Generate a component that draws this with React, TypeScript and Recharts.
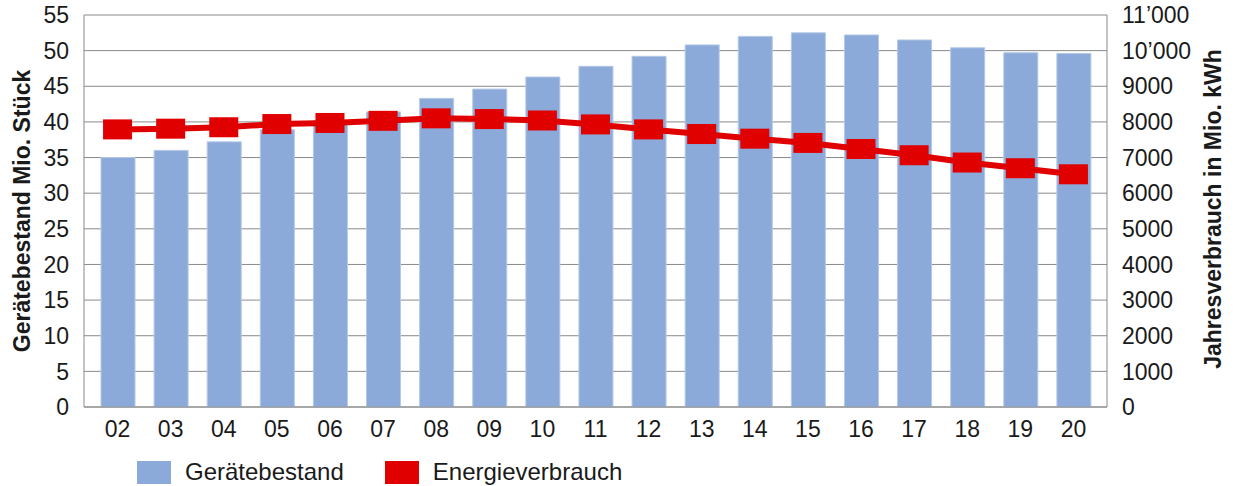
import {
  ComposedChart,
  Bar,
  Line,
  CartesianGrid,
  XAxis,
  YAxis,
  Legend,
} from "recharts";

const years = ["02", "03", "04", "05", "06", "07", "08", "09", "10", "11", "12", "13", "14", "15", "16", "17", "18", "19", "20"];
const geraetebestand = [35.0, 36.0, 37.2, 38.9, 40.2, 41.4, 43.3, 44.6, 46.3, 47.8, 49.2, 50.8, 52.0, 52.5, 52.2, 51.5, 50.4, 49.7, 49.6];
const energieverbrauch = [7790, 7810, 7850, 7940, 7970, 8030, 8100, 8080, 8040, 7930, 7790, 7660, 7530, 7410, 7240, 7065, 6860, 6700, 6530];
const leftTicks = [0, 5, 10, 15, 20, 25, 30, 35, 40, 45, 50, 55];
const rightTicks = [0, 1000, 2000, 3000, 4000, 5000, 6000, 7000, 8000, 9000, 10000, 11000];

const data = years.map((year, i) => ({
  year,
  bestand: geraetebestand[i],
  verbrauch: energieverbrauch[i],
}));

const BLUE = "#8BAAD9";
const RED = "#E00000";
const FONT = "'Liberation Sans', Arial, sans-serif";

const formatRight = (v: number) =>
  v >= 10000 ? `${Math.floor(v / 1000)}\u2019${String(v % 1000).padStart(3, "0")}` : String(v);

function SquareDot(props: any) {
  const { cx, cy, index } = props;
  if (cx == null || cy == null) return null;
  return <rect key={`dot-${index}`} x={cx - 14.5} y={cy - 10} width={29} height={20} fill={RED} />;
}

function LegendContent() {
  const items = [
    { label: "Gerätebestand", color: BLUE },
    { label: "Energieverbrauch", color: RED },
  ];
  return (
    <div style={{ display: "flex", alignItems: "center", fontFamily: FONT, fontSize: 24, color: "#1a1a1a" }}>
      {items.map((it, i) => (
        <div key={it.label} style={{ display: "flex", alignItems: "center", marginRight: i === 0 ? 41 : 0 }}>
          <span style={{ display: "inline-block", width: 34, height: 23, background: it.color, marginRight: 14 }} />
          <span>{it.label}</span>
        </div>
      ))}
    </div>
  );
}

export default function App() {
  return (
    <div style={{ position: "absolute", left: 0, top: 0, width: 1236, height: 486, background: "#fff" }}>
      <ComposedChart
        width={1236}
        height={486}
        data={data}
        margin={{ top: 15, right: 0, bottom: 11, left: 0 }}
        barCategoryGap={0}
      >
        <CartesianGrid vertical={false} stroke="#8a8a8a" strokeWidth={1} yAxisId="left" />
        <XAxis
          dataKey="year"
          height={40}
          padding={{ left: 7, right: 7 }}
          axisLine={{ stroke: "#8a8a8a" }}
          tickLine={false}
          tickMargin={8}
          tick={{ fontFamily: FONT, fontSize: 23, fill: "#1a1a1a" }}
          interval={0}
        />
        <YAxis
          yAxisId="left"
          orientation="left"
          width={84}
          domain={[0, 55]}
          ticks={leftTicks}
          interval={0}
          axisLine={{ stroke: "#8a8a8a" }}
          tickLine={false}
          tickMargin={9}
          tick={{ fontFamily: FONT, fontSize: 23, fill: "#1a1a1a" }}
          label={{
            content: ({ viewBox }: any) => (
              <text
                x={22}
                y={viewBox.y + viewBox.height / 2}
                transform={`rotate(-90, 22, ${viewBox.y + viewBox.height / 2})`}
                textAnchor="middle"
                dominantBaseline="central"
                fontFamily={FONT}
                fontSize={23}
                fontWeight="bold"
                fill="#1a1a1a"
              >
                Gerätebestand Mio. Stück
              </text>
            ),
          }}
        />
        <YAxis
          yAxisId="right"
          orientation="right"
          width={129}
          domain={[0, 11000]}
          ticks={rightTicks}
          interval={0}
          tickFormatter={formatRight}
          axisLine={{ stroke: "#8a8a8a" }}
          tickLine={false}
          tickMargin={9}
          tick={{ fontFamily: FONT, fontSize: 23, fill: "#1a1a1a" }}
          label={{
            content: ({ viewBox }: any) => (
              <text
                x={1213}
                y={viewBox.y + viewBox.height / 2 - 2}
                transform={`rotate(-90, 1213, ${viewBox.y + viewBox.height / 2 - 2})`}
                textAnchor="middle"
                dominantBaseline="central"
                fontFamily={FONT}
                fontSize={23}
                fontWeight="bold"
                fill="#1a1a1a"
              >
                Jahresverbrauch in Mio. kWh
              </text>
            ),
          }}
        />
        <Legend
          verticalAlign="bottom"
          align="left"
          content={<LegendContent />}
          wrapperStyle={{ left: 137, bottom: 0, width: "auto" }}
        />
        <Bar
          yAxisId="left"
          dataKey="bestand"
          name="Gerätebestand"
          fill={BLUE}
          stroke="#B4C8E6"
          strokeWidth={1}
          barSize={34}
          isAnimationActive={false}
        />
        <Line
          yAxisId="right"
          dataKey="verbrauch"
          name="Energieverbrauch"
          stroke={RED}
          strokeWidth={6}
          dot={<SquareDot />}
          activeDot={false}
          isAnimationActive={false}
        />
      </ComposedChart>
    </div>
  );
}
